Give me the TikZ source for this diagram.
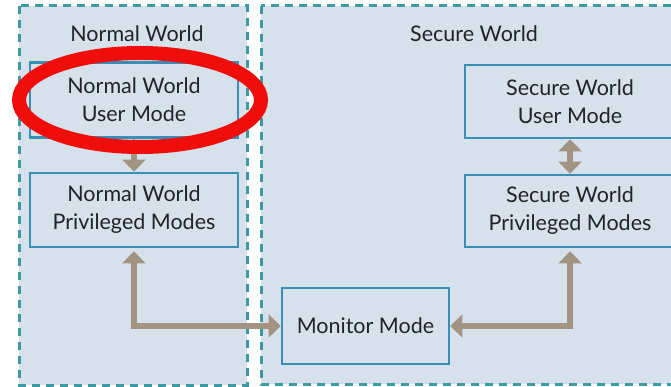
\documentclass[tikz,border=0pt]{standalone}
\usepackage{fontspec}
\setmainfont{Lato}
\usetikzlibrary{arrows.meta}
\definecolor{panel}{HTML}{D6E1EB}
\definecolor{dashline}{HTML}{3C9AA3}
\definecolor{boxline}{HTML}{3A90B4}
\definecolor{txt}{HTML}{202427}
\definecolor{linkcol}{HTML}{A39383}
\definecolor{mark}{HTML}{F20D0D}
\tikzset{
  world/.style={draw=dashline, fill=panel, line width=3pt, dash pattern=on 8pt off 6pt},
  modebox/.style={draw=boxline, line width=2.8pt, align=center, inner sep=0pt,
    font=\fontsize{21.5}{28}\selectfont, text=txt},
  title/.style={font=\fontsize{21.5}{24}\selectfont, text=txt},
  link/.style={draw=linkcol, line width=6.5pt,
    {Triangle[width=23pt,length=12pt]}-{Triangle[width=23pt,length=12pt]}},
  highlight/.style={draw=mark, line width=14pt}
}
\begin{document}
\begin{tikzpicture}[x=1pt,y=-1pt]
  \fill[white] (0,0) rectangle (671,387);
  \useasboundingbox (0,0) rectangle (671,387);
  \begin{scope}
    \clip (0,0) rectangle (671,387);
    % the two worlds
    \draw[world] (19,6) rectangle (247,385);
    \draw[world] (261,6) rectangle (690,384);
    \node[title] (nwt) at (137,34) {Normal World};
    \node[title] (swt) at (474,34) {Secure World};
    % modes
    \node[modebox, minimum width=208pt, minimum height=75pt] (nwu) at (134,100)
      {Normal World\\User Mode};
    \node[modebox, minimum width=208pt, minimum height=74pt] (nwp) at (134,210)
      {Normal World\\Privileged Modes};
    \node[modebox, minimum width=210pt, minimum height=73pt] (swu) at (570,101.5)
      {Secure World\\User Mode};
    \node[modebox, minimum width=210pt, minimum height=72pt] (swp) at (570,211)
      {Secure World\\Privileged Modes};
    \node[modebox, minimum width=167pt, minimum height=76pt] (mon) at (365.5,326)
      {Monitor Mode};
    % transitions
    \draw[link] (nwu.south) -- (nwp.north);
    \draw[link] (swu.south) -- (swp.north);
    \draw[link] ([yshift=-3pt]nwp.south) |- (mon.west);
    \draw[link] ([yshift=-3pt]swp.south) |- (mon.east);
    % highlight ring
    \draw[highlight] (140,100) ellipse (121pt and 47pt);
  \end{scope}
\end{tikzpicture}
\end{document}
